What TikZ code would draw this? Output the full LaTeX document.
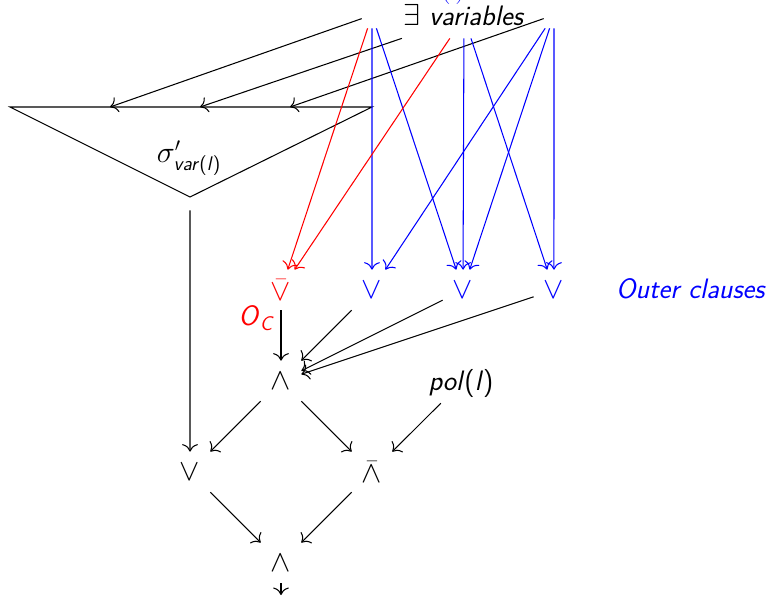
\documentclass[tikz,border=0pt]{standalone}
\usepackage{amsmath,amssymb}
\usepackage{tikz}
\usetikzlibrary{arrows.meta,positioning}
\newcommand{\sfit}[1]{\textsf{\itshape #1}}
\tikzset{
  gate/.style={minimum width=.8cm,minimum height=.8cm,inner sep=0pt},
  varnode/.style={minimum width=.4cm,minimum height=.52cm,inner sep=0pt},
  exlabel/.style={text depth=.11cm,inner ysep=.15cm},
  flow/.style={-{To[length=1.5mm]},line width=.6pt},
  redflow/.style={flow,red},
  blueflow/.style={flow,blue},
  treeline/.style={line width=.6pt},
}

\begin{document}
\begin{tikzpicture}[x=.02cm,y=-.02cm,node distance=1.82cm,on grid,font=\fontsize{16}{19}\selectfont]
    \useasboundingbox (0,0) rectangle (776,596);
    % variables on top
    \node[blue,anchor=base] (top) at (453,-3) {(\,)};
    \node[exlabel,anchor=base] (ex) at (464,25) {$\exists$ \sfit{variables}};
    \node[varnode] (v1) at (372,15) {};
    \node[varnode] (v3) at (554,15) {};
    % the sigma triangle
    \coordinate (tl) at (10,107);
    \coordinate (tr) at (372,107);
    \node[minimum size=.52cm,inner sep=0pt] (tb) at (190,197) {};
    \draw[treeline] (tl) -- (tr) -- (tb.center) -- cycle;
    \node (sig) at (189,158) {$\sigma'_{\text{\sfit{var}\textsf{(}\sfit{l}\textsf{)}}}$};
    \coordinate (tt1) at (110,107);
    \coordinate (tt2) at (200,107);
    \coordinate (tt3) at (290,107);
    \draw[flow] (v1) -- (tt1);\draw[flow] (ex) -- (tt2);\draw[flow] (v3) -- (tt3);
    % outer clauses
    \node[gate,red] (c0) at (281,290) {$\bar\vee$};
    \node[gate,blue,right=of c0] (c1) {$\vee$};
    \node[gate,blue,right=of c1] (c2) {$\vee$};
    \node[gate,blue,right=of c2] (c3) {$\vee$};
    \node[blue,anchor=base] (outer) at (691,298) {\sfit{Outer clauses}};
    \draw[redflow] (v1) -- (c0);\draw[blueflow] (v1) -- (c1);\draw[blueflow] (v1) -- (c2);
    \draw[redflow] (ex) -- (c0);\draw[blueflow] (ex) -- (c2);\draw[blueflow] (ex) -- (c3);
    \draw[blueflow] (v3) -- (c1);\draw[blueflow] (v3) -- (c2);\draw[blueflow] (v3) -- (c3);
    % lower gates
    \node[gate,below=of c0] (a) {$\wedge$};
    \node[gate,below left=1.82cm and 1.82cm of a] (l) {$\vee$};
    \node[gate,below right=1.82cm and 1.82cm of a] (nb) {$\bar\wedge$};
    \node[gate,below=3.64cm of a] (b) {$\wedge$};
    \node[anchor=base] (pol) at (461,390) {\sfit{pol}\textsf{(}\sfit{l}\textsf{)}};
    \coordinate (out) at (281,595);
    \draw[flow] (c0) -- node[pos=.15,left,red] {\sfit{O}$_{\text{\sfit{C}}}$} (a);
    \draw[flow] (c1) -- (a);\draw[flow] (c2) -- (a);\draw[flow] (c3) -- (a);
    \draw[flow] (a) -- (l);\draw[flow] (a) -- (nb);\draw[flow] (pol) -- (nb);
    \draw[flow] (tb) -- (l);
    \draw[flow] (l) -- (b);\draw[flow] (nb) -- (b);
    \draw[flow] (b) -- (out);
  \end{tikzpicture}
\end{document}
